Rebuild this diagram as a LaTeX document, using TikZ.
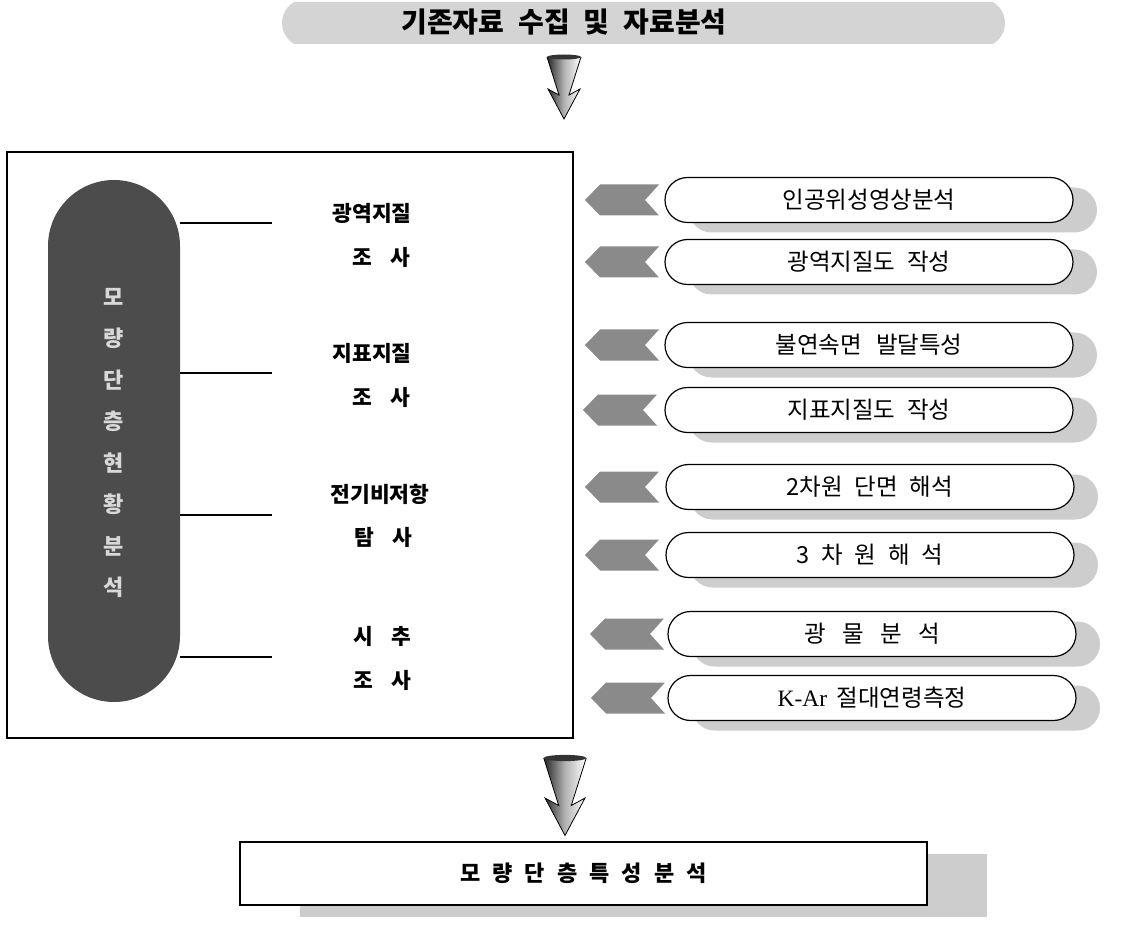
\documentclass[tikz,border=0pt]{standalone}
\usepackage{fontspec}
\setmainfont{Liberation Serif}
\newfontfamily\kr{Noto Sans CJK KR}
\usetikzlibrary{shapes.misc,shadows}
\definecolor{bannergray}{HTML}{D4D4D4}
\definecolor{darkpill}{HTML}{4C4C4C}
\definecolor{chevgray}{HTML}{8A8A8A}
\definecolor{shadowgray}{HTML}{CDCDCD}
\definecolor{pilltext}{HTML}{D8D8D8}
\tikzset{
  pillbox/.style={rounded rectangle, draw, line width=1.2pt, fill=white,
    minimum width=408pt, minimum height=45pt, inner sep=0pt,
    font=\kr\fontsize{23.5}{27}\selectfont,
    drop shadow={shadow xshift=24pt, shadow yshift=-10pt, fill=shadowgray, opacity=1}},
  lbl/.style={font=\kr\bfseries\fontsize{21.5}{25}\selectfont, inner sep=0pt},
  vch/.style={font=\kr\bfseries\fontsize{22}{25}\selectfont, text=pilltext, inner sep=0pt},
  chev/.pic={\fill[chevgray] (-37,0) -- (-22,-15.5) -- (37,-15.5) -- (23,0) -- (37,15.5) -- (-22,15.5) -- cycle;},
  conearrow/.pic={
    \shade[left color=black!85, right color=white, middle color=black!30]
      (-17,0) -- (17,0) -- (5,38) -- (16,32) -- (0,62) -- (-16,32) -- (-5,38) -- cycle;
    \draw[line width=0.8pt] (-17,0) -- (-5,38) -- (-16,32) -- (0,62) -- (16,32) -- (5,38) -- (17,0);
    \fill[black!80] (0,0) ellipse (17pt and 2.5pt);
  }
}
\begin{document}
\begin{tikzpicture}[x=1pt,y=-1pt]
\useasboundingbox (0,0) rectangle (1130,933);

% top banner
\node[rounded rectangle, fill=bannergray, minimum width=723pt, minimum height=42pt,
      rounded rectangle arc length=120, inner sep=0pt]
  (banner) at (643.5,23) {};
\node[font=\kr\bfseries\fontsize{28}{32}\selectfont, inner sep=0pt] (bannertext) at (564,22)
  {기존자료\hspace{0.5em}수집\hspace{0.5em}및\hspace{0.5em}자료분석};

% top arrow
\pic at (564,57) {conearrow};

% main box
\node[draw, line width=1.6pt, minimum width=566pt, minimum height=586pt, inner sep=0pt] (mainbox) at (290,445) {};

% dark pill
\node[rounded rectangle, rotate=90, fill=darkpill, minimum width=522pt, minimum height=132pt, inner sep=0pt]
  (dpill) at (114,441) {};
\foreach \c [count=\i from 0] in {모,량,단,층,현,황,분,석}
  \node[vch] (v\i) at (114,{297+\i*41.5}) {\c};

% connector lines
\foreach \y/\n in {223/a,373/b,515/c,657/d}{
  \coordinate (s\n) at (180,\y);
  \coordinate (e\n) at (272,\y);
  \draw[line width=1.5pt] (s\n) -- (e\n);
}

% labels
\node[lbl] (l1a) at (372,213) {광역지질};
\node[lbl] (l1b) at (381,257) {조\hspace{0.85em}사};
\node[lbl] (l2a) at (372,353) {지표지질};
\node[lbl] (l2b) at (381,397) {조\hspace{0.85em}사};
\node[lbl] (l3a) at (380,494) {전기비저항};
\node[lbl] (l3b) at (383,537) {탐\hspace{0.85em}사};
\node[lbl] (l4a) at (382,636) {시\hspace{0.85em}추};
\node[lbl] (l4b) at (382,680) {조\hspace{0.85em}사};

% right pills
\node[pillbox] (p1) at (869,200) {인공위성영상분석};
\node[pillbox] (p2) at (869,262) {광역지질도\hspace{0.5em}작성};
\node[pillbox] (p3) at (869,345) {불연속면\hspace{0.6em}발달특성};
\node[pillbox] (p4) at (869,410) {지표지질도\hspace{0.5em}작성};
\node[pillbox] (p5) at (870,487) {2차원\hspace{0.5em}단면\hspace{0.5em}해석};
\node[pillbox] (p6) at (870,555) {3\hspace{0.5em}차\hspace{0.5em}원\hspace{0.5em}해\hspace{0.5em}석};
\node[pillbox] (p7) at (872,634) {광\hspace{0.7em}물\hspace{0.7em}분\hspace{0.7em}석};
\node[pillbox] (p8) at (872,698) {{\rmfamily K-Ar}\hspace{0.4em}절대연령측정};

% chevrons
\foreach \y/\x in {200/622,262/622,345/622,410/620,487/622,555/622,634/627,698/628}
  \pic at (\x,\y) {chev};

% bottom arrow
\pic[scale=1.25] at (565,758) {conearrow};

% bottom box
\node[draw, line width=1.2pt, fill=white, minimum width=687pt, minimum height=63pt, inner sep=0pt,
      font=\kr\bfseries\fontsize{22}{25}\selectfont,
      drop shadow={shadow xshift=60pt, shadow yshift=-12pt, fill=shadowgray, opacity=1}]
  (final) at (583.5,873.5) {모\hspace{0.55em}량\hspace{0.55em}단\hspace{0.55em}층\hspace{0.55em}특\hspace{0.55em}성\hspace{0.55em}분\hspace{0.55em}석};
\end{tikzpicture}
\end{document}
